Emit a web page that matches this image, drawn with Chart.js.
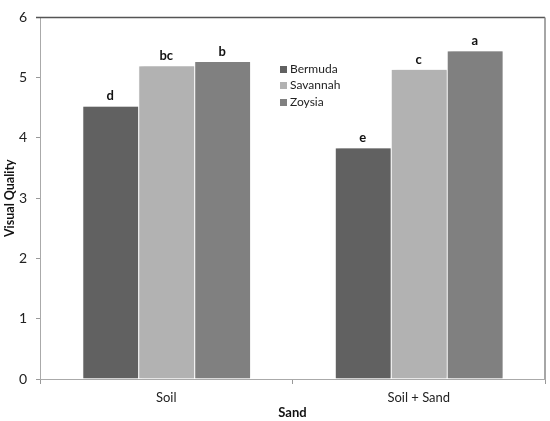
<!DOCTYPE html>
<html>
<head>
<meta charset="utf-8">
<script src="https://cdn.jsdelivr.net/npm/chart.js@4"></script>
<style>
  html, body { margin: 0; padding: 0; background: #fff; }
  #wrap { position: relative; width: 550px; height: 421px; }
  #legend { position: absolute; left: 280px; top: 61px; font-family: Lato, sans-serif; font-size: 12px; color: #222; }
  #legend div { height: 16.3px; line-height: 16px; white-space: nowrap; }
  #legend span { display: inline-block; width: 7px; height: 7px; margin-right: 3px; vertical-align: 0px; }
</style>
</head>
<body>
<div id="wrap">
  <canvas id="chart" width="550" height="421"></canvas>
  <div id="legend"></div>
</div>
<script>
// data
const categories = ['Soil', 'Soil + Sand'];
const bermuda = [4.52, 3.83];
const savannah = [5.19, 5.13];
const zoysia = [5.26, 5.44];
const bermudaLetters = ['d', 'e'];
const savannahLetters = ['bc', 'c'];
const zoysiaLetters = ['b', 'a'];
const yTicks = [0, 1, 2, 3, 4, 5, 6];

const font = 'Lato, sans-serif';

const barData = {
    labels: categories,
    datasets: [
        { label: 'Bermuda', data: bermuda, letters: bermudaLetters, backgroundColor: '#616161' },
        { label: 'Savannah', data: savannah, letters: savannahLetters, backgroundColor: '#b2b2b2' },
        { label: 'Zoysia', data: zoysia, letters: zoysiaLetters, backgroundColor: '#808080' }
    ]
};
barData.datasets.forEach(ds => {
    ds.borderColor = '#ffffff';
    ds.borderWidth = { left: 1, right: 0, top: 0, bottom: 0 };
    ds.categoryPercentage = 0.665;
    ds.barPercentage = 1;
});

// shadow behind bars
const shadowPlugin = {
    id: 'shadow',
    beforeDatasetsDraw(chart) {
        const ctx = chart.ctx;
        ctx.save();
        ctx.shadowColor = 'rgba(0,0,0,0.22)';
        ctx.shadowBlur = 3;
        ctx.shadowOffsetX = 2;
        ctx.shadowOffsetY = -1;
    },
    afterDatasetsDraw(chart) {
        chart.ctx.restore();
    }
};

// letters over bars + plot frame
const lettersPlugin = {
    id: 'letters',
    afterDatasetsDraw(chart) {
        const ctx = chart.ctx;
        ctx.save();
        ctx.font = 'bold 13px ' + font;
        ctx.fillStyle = '#111';
        ctx.textAlign = 'center';
        ctx.textBaseline = 'bottom';
        chart.data.datasets.forEach((ds, i) => {
            chart.getDatasetMeta(i).data.forEach((bar, j) => {
                ctx.fillText(ds.letters[j], bar.x, bar.y - 4);
            });
        });
        const a = chart.chartArea;
        ctx.strokeStyle = '#555';
        ctx.lineWidth = 1.5;
        ctx.beginPath();
        ctx.moveTo(a.left - 4, a.top);
        ctx.lineTo(a.right, a.top);
        ctx.stroke();
        ctx.strokeStyle = '#888';
        ctx.lineWidth = 1.5;
        ctx.beginPath();
        ctx.moveTo(a.right, a.top);
        ctx.lineTo(a.right, a.bottom);
        ctx.stroke();
        ctx.restore();
    }
};

const barConfig = {
    type: 'bar',
    data: barData,
    options: {
        responsive: false,
        animation: false,
        layout: { padding: { top: 9, right: 5, left: 2, bottom: 0 } },
        plugins: {
            legend: { display: false },
            tooltip: { enabled: false }
        },
        scales: {
            x: {
                grid: { offset: true, drawOnChartArea: false, tickLength: 5, color: '#999' },
                border: { color: '#aaa' },
                ticks: { font: { family: font, size: 13 }, color: '#222', padding: 6 },
                title: { display: true, text: 'Sand', font: { family: font, size: 13, weight: 'bold' }, color: '#111', padding: { top: 0, bottom: 0 } },
                afterFit(scale) { scale.height = 42; }
            },
            y: {
                min: 0,
                max: 6,
                afterBuildTicks(scale) { scale.ticks = yTicks.map(v => ({ value: v })); },
                grid: { drawOnChartArea: false, tickLength: 4, color: '#999' },
                border: { color: '#aaa' },
                ticks: { font: { family: font, size: 14 }, color: '#222', padding: 9 },
                title: { display: true, text: 'Visual Quality', font: { family: font, size: 12.5, weight: 'bold' }, color: '#111', padding: { top: 0, bottom: 0 } },
                afterFit(scale) { scale.width = 38; }
            }
        }
    },
    plugins: [shadowPlugin, lettersPlugin]
};

const chartCtx = document.getElementById('chart').getContext('2d');
new Chart(chartCtx, barConfig);

// legend
const legendEl = document.getElementById('legend');
barData.datasets.forEach(ds => {
    const row = document.createElement('div');
    const box = document.createElement('span');
    box.style.background = ds.backgroundColor;
    row.appendChild(box);
    row.appendChild(document.createTextNode(ds.label));
    legendEl.appendChild(row);
});
</script>
</body>
</html>
